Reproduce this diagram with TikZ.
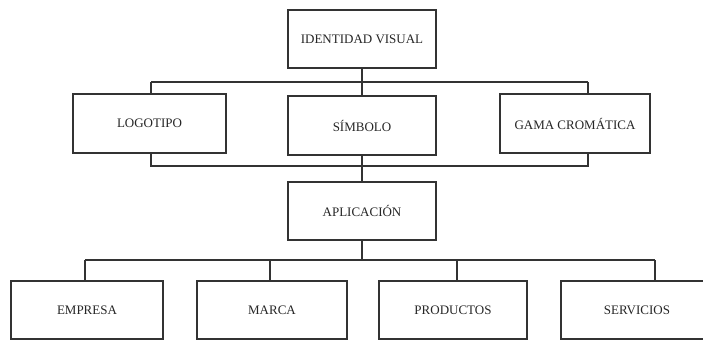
\documentclass[tikz,border=0pt]{standalone}
\usepackage{fontspec}
\setmainfont{Liberation Serif}
\begin{document}
\begin{tikzpicture}[x=1pt,y=-1pt,
  box/.style={draw=black!80,line width=1.3pt,fill=white,text=black!85,inner sep=0pt,
    font=\fontsize{13}{15}\selectfont,minimum height=58pt},
  wide/.style={minimum width=148pt},
  link/.style={draw=black!80,line width=1.3pt}]
\useasboundingbox (0,0) rectangle (703,340);
\clip (0,0) rectangle (703,340);
\node[box,wide] (idv) at (362,39) {IDENTIDAD VISUAL};
\node[box,minimum width=153pt,minimum height=59pt] (logo) at (149.5,123.5) {LOGOTIPO};
\node[box,wide,minimum height=59pt] (sim) at (362,125.5) {SÍMBOLO};
\node[box,minimum width=150pt,minimum height=59pt] (gama) at (575,123.5) {GAMA CROMÁTICA};
\node[box,wide] (apl) at (362,211) {APLICACIÓN};
\node[box,minimum width=152pt] (emp) at (87,310) {EMPRESA};
\node[box,minimum width=150pt] (mar) at (272,310) {MARCA};
\node[box,wide] (pro) at (453,310) {PRODUCTOS};
\node[box,minimum width=152pt] (ser) at (637,310) {SERVICIOS};
% connectors
\coordinate (b1) at (362,82);
\coordinate (b3) at (362,260);
\coordinate (l1) at (151,82);
\coordinate (r1) at (588,82);
\coordinate (l2) at (151,166);
\coordinate (r2) at (588,166);
\coordinate (e3) at (85,260);
\coordinate (m3) at (270,260);
\coordinate (p3) at (457,260);
\coordinate (s3) at (655,260);
\draw[link] (idv.south) -- (b1);
\draw[link] (b1) -- (sim.north);
\draw[link] (l1) -- (r1);
\draw[link] (l1) -- (l1 |- logo.north);
\draw[link] (r1) -- (r1 |- gama.north);
\draw[link] (l2 |- logo.south) -- (l2) -- (r2) -- (r2 |- gama.south);
\draw[link] (sim.south) -- (apl.north);
\draw[link] (apl.south) -- (b3);
\draw[link] (e3) -- (s3);
\draw[link] (e3) -- (e3 |- emp.north);
\draw[link] (m3) -- (m3 |- mar.north);
\draw[link] (p3) -- (p3 |- pro.north);
\draw[link] (s3) -- (s3 |- ser.north);
\end{tikzpicture}
\end{document}
